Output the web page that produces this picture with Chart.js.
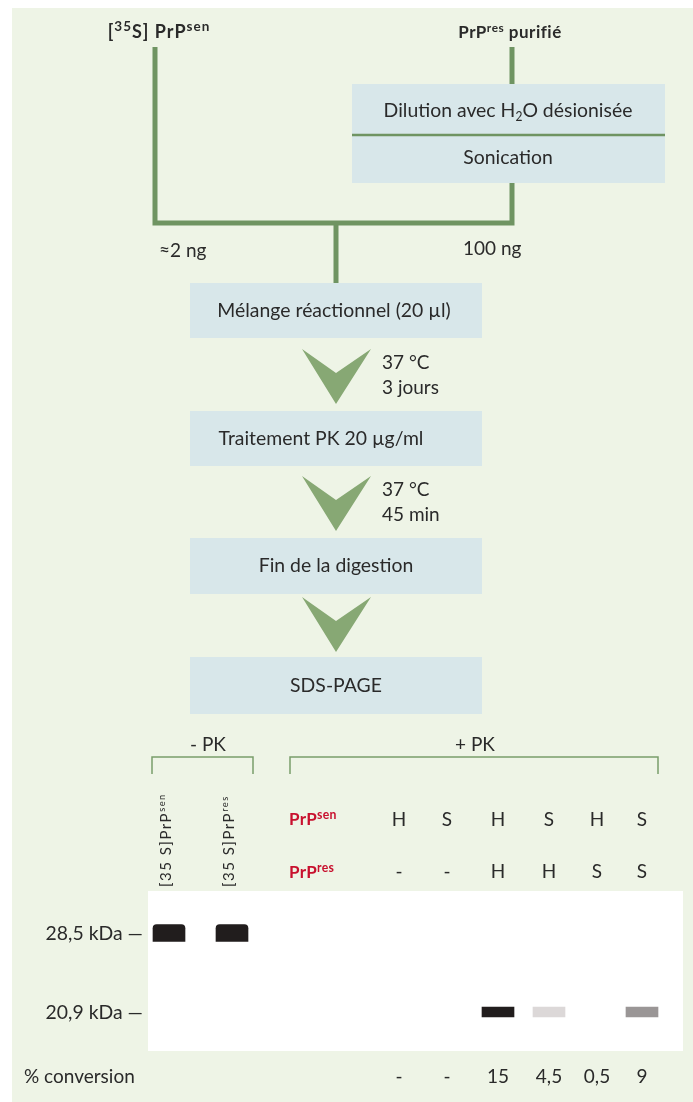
<!DOCTYPE html>
<html>
<head>
<meta charset="utf-8">
<script src="https://cdn.jsdelivr.net/npm/chart.js"></script>
<style>
  html, body { margin: 0; padding: 0; background: #ffffff; }
  canvas { display: block; }
</style>
</head>
<body>
<canvas id="schema" width="693" height="1102"></canvas>
<script>
// textes et valeurs du schéma
const sources = ['[^{35}S] PrP^{sen}', 'PrP^{res} purifié'];
const pretraitement = ['Dilution avec H_{2}O désionisée', 'Sonication'];
const quantites = ['≈2 ng', '100 ng'];
const etapes = ['Mélange réactionnel (20 µl)', 'Traitement PK 20 µg/ml', 'Fin de la digestion', 'SDS-PAGE'];
const incubations = [['37 °C', '3 jours'], ['37 °C', '45 min']];
const groupes = ['- PK', '+ PK'];
const pistesTemoins = ['[35 S]PrP^{sen}', '[35 S]PrP^{res}'];
const lignesPrP = ['PrP^{sen}', 'PrP^{res}'];
const prpSen = ['H', 'S', 'H', 'S', 'H', 'S'];
const prpRes = ['-', '-', 'H', 'H', 'S', 'S'];
const marqueurs = ['28,5 kDa', '20,9 kDa'];
// intensité des bandes par piste (0 = rien, 1 = noir)
const bande285 = [1, 1, 0, 0, 0, 0, 0, 0];
const bande209 = [0, 0, 0, 0, 1, 0.15, 0, 0.45];
const titreConversion = '% conversion';
const conversion = ['-', '-', '15', '4,5', '0,5', '9'];

// mise en page (coordonnées du schéma, en px)
const pisteX = [169, 232, 399, 447, 498, 549, 597, 642];
const marqueurY = [933, 1012];
const bandeH = [17, 10];
const etapeY = [[283, 338], [411, 466], [538, 594], [657, 714]];
const chevronY = [349, 476, 597];

const FONT = 'Lato, "Open Sans", sans-serif';
const SX = 0.95;
const VERT = '#6f9462';
const VERT_CLAIR = '#87a874';
const BOITE = '#d8e7ea';
const FOND = '#eef4e6';
const TEXTE = '#2a2a2a';
const ROUGE = '#c8102e';

function trace(pts, couleur, epaisseur) {
    return {
        type: 'line', order: 3,
        data: pts.map(p => ({ x: p[0], y: p[1] })),
        borderColor: couleur, borderWidth: epaisseur,
        borderJoinStyle: 'miter', borderCapStyle: 'butt',
        pointRadius: 0, fill: false, tension: 0
    };
}
function forme(pts, couleur) {
    return {
        type: 'line', order: 5,
        data: pts.concat([pts[0]]).map(p => ({ x: p[0], y: p[1] })),
        borderColor: 'rgba(0,0,0,0)', borderWidth: 0,
        backgroundColor: couleur, fill: 'shape',
        pointRadius: 0, tension: 0
    };
}
function rect(x0, y0, x1, y1, couleur) {
    return forme([[x0, y0], [x1, y0], [x1, y1], [x0, y1]], couleur);
}

const datasets = [];
// boîtes
datasets.push(rect(352, 84, 665, 183, BOITE));
etapeY.forEach(([a, b]) => datasets.push(rect(190, a, 482, b, BOITE)));
// gel
datasets.push(rect(148, 891, 683, 1051, '#ffffff'));
// chevrons
chevronY.forEach(t => datasets.push(forme([[302, t], [336, t + 24], [371, t], [336, t + 55]], VERT_CLAIR)));
// traits du schéma
datasets.push(trace([[155, 47], [155, 223], [512, 223], [512, 183]], VERT, 5));
datasets.push(trace([[512, 47], [512, 84]], VERT, 5));
datasets.push(trace([[336, 223], [336, 283]], VERT, 5));
datasets.push(trace([[352, 135], [665, 135]], VERT, 2.5));
// accolades - PK / + PK
datasets.push(trace([[152, 774], [152, 757], [253, 757], [253, 774]], '#7a9d6b', 1.5));
datasets.push(trace([[290, 774], [290, 757], [658, 757], [658, 774]], '#7a9d6b', 1.5));

// bandes du gel
const bandes = [];
[bande285, bande209].forEach((serie, m) => {
    serie.forEach((v, i) => {
        if (v > 0) bandes.push({ x: pisteX[i], y: [marqueurY[m] - bandeH[m] / 2, marqueurY[m] + bandeH[m] / 2], m: m, v: v });
    });
});
const gris = v => { const g = Math.round(253 - 220 * v); return `rgb(${g},${g - 4},${g - 4})`; };
datasets.push({
    type: 'bar', order: 0,
    data: bandes,
    barThickness: 32,
    backgroundColor: bandes.map(b => gris(b.v)),
    borderSkipped: false,
    borderRadius: c => (c.raw && c.raw.m === 0) ? { topLeft: 4, topRight: 4, bottomLeft: 0, bottomRight: 0 } : 0
});

function parseRiche(str) {
    const segs = [];
    const re = /\^\{([^}]*)\}|_\{([^}]*)\}|([^^_]+)/g;
    let m;
    while ((m = re.exec(str))) {
        if (m[1] !== undefined) segs.push({ t: m[1], sup: true });
        else if (m[2] !== undefined) segs.push({ t: m[2], sub: true });
        else segs.push({ t: m[3] });
    }
    return segs;
}

function texte(ctx, str, x, y, o) {
    const segs = parseRiche(str);
    const taille = o.size || 20;
    const ratio = o.supRatio || 0.62;
    const police = s => `${o.weight || 'normal'} ${s}px ${FONT}`;
    ctx.save();
    ctx.letterSpacing = (o.spacing || 0) + 'px';
    let w = 0;
    segs.forEach(s => {
        s.size = (s.sup || s.sub) ? taille * ratio : taille;
        ctx.font = police(s.size);
        s.w = ctx.measureText(s.t).width;
        w += s.w;
    });
    let cx = o.align === 'center' ? -w / 2 : o.align === 'right' ? -w : 0;
    ctx.translate(x, y);
    if (o.rotate) ctx.rotate(o.rotate);
    ctx.scale(o.sx || SX, 1);
    ctx.fillStyle = o.color || TEXTE;
    ctx.textBaseline = 'middle';
    ctx.textAlign = 'left';
    segs.forEach(s => {
        ctx.font = police(s.size);
        const dy = s.sup ? -taille * 0.28 : s.sub ? taille * 0.3 : 0;
        ctx.fillText(s.t, cx, dy);
        cx += s.w;
    });
    ctx.restore();
}

const fondPlugin = {
    id: 'fond',
    beforeDraw(chart) {
        const { ctx, scales: { x, y } } = chart;
        ctx.save();
        ctx.fillStyle = FOND;
        ctx.fillRect(x.getPixelForValue(12), y.getPixelForValue(8),
            x.getPixelForValue(693) - x.getPixelForValue(12), y.getPixelForValue(1102) - y.getPixelForValue(8));
        ctx.restore();
    }
};

const textePlugin = {
    id: 'textes',
    afterDraw(chart) {
        const { ctx, scales: { x, y } } = chart;
        const px = v => x.getPixelForValue(v), py = v => y.getPixelForValue(v);
        const titre = { size: 17, weight: 'bold', align: 'center', supRatio: 0.7, sx: 1, spacing: 0.5 };
        texte(ctx, sources[0], px(159), py(32), { ...titre, size: 18, supRatio: 0.75, spacing: 1 });
        texte(ctx, sources[1], px(510), py(33), titre);
        texte(ctx, pretraitement[0], px(508), py(111), { align: 'center', sx: 0.97 });
        texte(ctx, pretraitement[1], px(508), py(158), { align: 'center', sx: 0.97 });
        texte(ctx, quantites[0], px(159), py(251), {});
        texte(ctx, quantites[1], px(463), py(249), {});
        const etapeCx = [334, 321, 336, 336];
        etapes.forEach((e, i) => texte(ctx, e, px(etapeCx[i]), py((etapeY[i][0] + etapeY[i][1]) / 2), { align: 'center', sx: 0.97 }));
        incubations.forEach((lignes, i) => {
            lignes.forEach((l, j) => texte(ctx, l, px(382), py(chevronY[i] + 14 + j * 25), {}));
        });
        texte(ctx, groupes[0], px(208), py(745), { align: 'center' });
        texte(ctx, groupes[1], px(475), py(745), { align: 'center' });
        pistesTemoins.forEach((p, i) => texte(ctx, p, px(pisteX[i] - 3), py(887), { size: 15, rotate: -Math.PI / 2, spacing: 1.5, sx: 1 }));
        const rouge = { size: 17, weight: 'bold', color: ROUGE, supRatio: 0.72, sx: 1, spacing: 0.3 };
        texte(ctx, lignesPrP[0], px(289), py(820), rouge);
        texte(ctx, lignesPrP[1], px(289), py(873), rouge);
        prpSen.forEach((v, i) => texte(ctx, v, px(pisteX[i + 2]), py(820), { align: 'center' }));
        prpRes.forEach((v, i) => texte(ctx, v, px(pisteX[i + 2]), py(872), { align: 'center' }));
        marqueurs.forEach((m, i) => texte(ctx, m + ' —', px(143), py(marqueurY[i] + 1), { align: 'right', sx: 0.97 }));
        texte(ctx, titreConversion, px(24), py(1077), {});
        conversion.forEach((v, i) => texte(ctx, v, px(pisteX[i + 2]), py(1077), { align: 'center' }));
    }
};

new Chart(document.getElementById('schema').getContext('2d'), {
    type: 'scatter',
    data: { datasets: datasets },
    options: {
        responsive: false,
        animation: false,
        events: [],
        layout: { padding: 0 },
        plugins: { legend: { display: false }, tooltip: { enabled: false } },
        scales: {
            x: { type: 'linear', min: 0, max: 693, display: false, offset: false },
            y: { type: 'linear', min: 0, max: 1102, reverse: true, display: false }
        }
    },
    plugins: [fondPlugin, textePlugin]
});
</script>
</body>
</html>
